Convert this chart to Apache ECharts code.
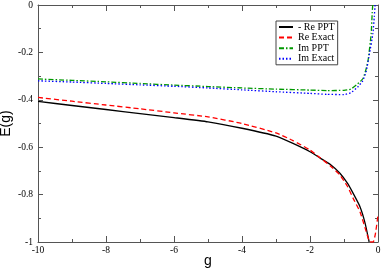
<!DOCTYPE html>
<html><head><meta charset="utf-8">
<script src="https://cdn.jsdelivr.net/npm/echarts@6/dist/echarts.min.js"></script>
<style>html,body{margin:0;padding:0;background:#fff}#c{width:382px;height:270px}</style>
</head><body><div id="c"></div>
<script>
const xTicks = [-10, -8, -6, -4, -2, 0];
const yTicks = [-1, -0.8, -0.6, -0.4, -0.2, 0];

const gRePPT = [-10, -9, -8, -7, -6, -5, -4, -3, -2.5, -2, -1.7, -1.4, -1.12, -0.9, -0.73, -0.53, -0.38, -0.26];
const rePPT  = [-0.407, -0.424, -0.441, -0.458, -0.475, -0.493, -0.52, -0.553, -0.584, -0.619, -0.646, -0.673, -0.71, -0.752, -0.795, -0.851, -0.92, -1.0];

const gReExact = [-10, -9, -8, -7, -6, -5, -4, -3, -2.5, -2, -1.7, -1.4, -1.12, -0.9, -0.73, -0.53, -0.38, -0.235, -0.14, -0.07, 0];
const reExact  = [-0.39, -0.406, -0.422, -0.438, -0.455, -0.472, -0.5, -0.54, -0.572, -0.612, -0.645, -0.679, -0.717, -0.765, -0.816, -0.872, -0.94, -1.0, -1.0, -0.96, -0.886];

const gImPPT = [-10, -9, -8, -7, -6, -5, -4, -3, -2, -1.5, -1, -0.8, -0.6, -0.44, -0.35, -0.29, -0.2, -0.17, -0.155];
const imPPT  = [-0.312, -0.318, -0.324, -0.331, -0.338, -0.344, -0.35, -0.355, -0.359, -0.361, -0.36, -0.355, -0.333, -0.31, -0.27, -0.232, -0.12, -0.03, 0];

const gImExact = [-10, -9, -8, -7, -6, -5, -4, -3, -2, -1.5, -1, -0.8, -0.6, -0.45, -0.35, -0.25, -0.15, -0.11, -0.085];
const imExact  = [-0.32, -0.325, -0.331, -0.337, -0.343, -0.35, -0.358, -0.366, -0.373, -0.377, -0.378, -0.37, -0.347, -0.32, -0.282, -0.205, -0.12, -0.05, 0];

const names = ['- Re PPT', 'Re Exact', 'Im PPT', 'Im Exact'];
const zip = (a, b) => a.map((v, i) => [v, b[i]]);

const axisCol = '#555';
const tickFont = {fontFamily: 'Liberation Serif', fontSize: 9.5, color: '#000'};
function xAx(pos, showLabel) {
  return {
    type: 'value', position: pos, min: -10, max: 0, interval: 2,
    name: showLabel ? 'g' : '', nameLocation: 'middle', nameGap: 12, nameMoveOverlap: false,
    nameTextStyle: {fontFamily: 'Liberation Sans', fontSize: 14, color: '#000'},
    axisLine: {show: true, onZero: false, lineStyle: {color: axisCol, width: 1}},
    axisTick: {show: true, inside: true, length: 6, lineStyle: {color: axisCol}},
    minorTick: {show: true, splitNumber: 2, length: 3, lineStyle: {color: axisCol}},
    axisLabel: Object.assign({show: showLabel, margin: 3,
      formatter: v => String(v)}, tickFont),
    splitLine: {show: false}
  };
}
function yAx(pos, showLabel) {
  return {
    type: 'value', position: pos, min: -1, max: 0, interval: 0.2,
    name: showLabel ? 'E(g)' : '', nameLocation: 'middle', nameGap: 25, nameRotate: 90, nameMoveOverlap: false,
    nameTextStyle: {fontFamily: 'Liberation Sans', fontSize: 14, color: '#000'},
    axisLine: {show: true, onZero: false, lineStyle: {color: axisCol, width: 1}},
    axisTick: {show: true, inside: true, length: 5, lineStyle: {color: axisCol}},
    minorTick: {show: true, splitNumber: 2, length: 3, lineStyle: {color: axisCol}},
    axisLabel: Object.assign({show: showLabel, margin: 5,
      formatter: v => String(Math.round(v * 10) / 10)}, tickFont),
    splitLine: {show: false}
  };
}

const chart = echarts.init(document.getElementById('c'), null, {renderer: 'canvas'});
chart.setOption({
  animation: false,
  backgroundColor: '#fff',
  grid: {left: 38, right: 4, top: 5, bottom: 28, containLabel: false, outerBoundsMode: 'none'},
  xAxis: [xAx('bottom', true), xAx('top', false)],
  yAxis: [yAx('left', true), yAx('right', false)],
  legend: {
    data: names, orient: 'vertical', left: 276, top: 21,
    backgroundColor: '#fff', borderColor: '#444', borderWidth: 1,
    padding: [1, 3, 1, 2], itemWidth: 14, itemHeight: 8, itemGap: 0.6,
    itemStyle: {color: 'rgba(0,0,0,0)', borderWidth: 0, opacity: 0},
    textStyle: {fontFamily: 'Liberation Serif', fontSize: 10, color: '#000', lineHeight: 10},
    selectedMode: false
  },
  series: [
    {name: names[0], type: 'line', data: zip(gRePPT, rePPT), showSymbol: false, symbol: 'none', smooth: 0.15, clip: true,
     lineStyle: {color: '#000', width: 1.3, type: 'solid'}, itemStyle: {color: '#000'}},
    {name: names[1], type: 'line', data: zip(gReExact, reExact), showSymbol: false, symbol: 'none', smooth: 0.15, clip: true,
     lineStyle: {color: '#ff0000', width: 1.3, type: [5, 3]}, itemStyle: {color: '#ff0000'}},
    {name: names[2], type: 'line', data: zip(gImPPT, imPPT), showSymbol: false, symbol: 'none', smooth: 0.15, clip: true,
     lineStyle: {color: '#009900', width: 1.3, type: [5, 2, 1.5, 2]}, itemStyle: {color: '#009900'}},
    {name: names[3], type: 'line', data: zip(gImExact, imExact), showSymbol: false, symbol: 'none', smooth: 0.15, clip: true,
     lineStyle: {color: '#0000ff', width: 1.3, type: [1.5, 2]}, itemStyle: {color: '#0000ff'}}
  ]
});
</script></body></html>
